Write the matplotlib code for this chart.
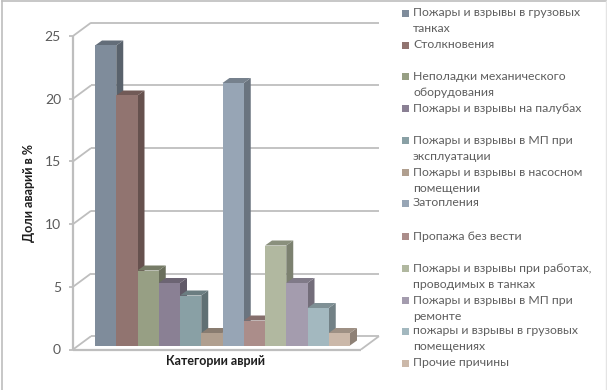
import matplotlib
matplotlib.use("Agg")
import matplotlib.pyplot as plt
from matplotlib.patches import Polygon, Rectangle
from matplotlib.colors import to_rgb

plt.rcParams['font.family'] = ['Lato', 'DejaVu Sans']

categories = [
    "Пожары и взрывы в грузовых\nтанках",
    "Столкновения",
    "Неполадки механического\nоборудования",
    "Пожары и взрывы на палубах",
    "Пожары и взрывы в МП при\nэксплуатации",
    "Пожары и взрывы в насосном\nпомещении",
    "Затопления",
    "Пропажа без вести",
    "Пожары и взрывы при работах,\nпроводимых в танках",
    "Пожары и взрывы в МП при\nремонте",
    "пожары и взрывы в грузовых\nпомещениях",
    "Прочие причины",
]
values = [24, 20, 6, 5, 4, 1, 21, 2, 8, 5, 3, 1]
colors = ["#7F8C9B", "#917470", "#979F84", "#8A8094", "#89A0A5", "#B09F8F",
          "#97A5B5", "#AB8D8A", "#B1B8A0", "#A49CAE", "#A3B8BF", "#CBB8A9"]
y_ticks = [0, 5, 10, 15, 20, 25]
legend_y = [13, 45, 76, 108, 140, 172, 203, 236, 268, 300, 331, 363]

W, H = 607, 390
fig = plt.figure(figsize=(W / 100, H / 100), dpi=100, facecolor="white")

# pixel canvas overlay (for layout only)
px = fig.add_axes([0, 0, 1, 1], zorder=0)
px.set_xlim(0, W)
px.set_ylim(H, 0)
px.axis("off")

# data axes: x = bar slot, y = value
BAR_W = 21.25
X0, Y0, UNIT = 95.0, 345.5, 12.5
ax = fig.add_axes([0, 0, 1, 1], zorder=1)
ax.patch.set_alpha(0)
ax.set_xlim(-X0 / BAR_W, (W - X0) / BAR_W)
ax.set_ylim(-(H - Y0) / UNIT, Y0 / UNIT)
ax.axis("off")

GRID = "#BEBEBE"
DX, DY = 7 / BAR_W, 5 / UNIT                     # bar depth
FX0, FX1 = -22 / BAR_W, 266 / BAR_W              # front floor edge
FY = -4 / UNIT                                   # front floor level
WX, WY = 18 / BAR_W, 13.3 / UNIT                 # wall depth
SCALE = 62.7 / 62.5


def ln(xs, ys, lw=1.3, z=1):
    ax.plot(xs, ys, color=GRID, lw=lw, solid_capstyle="butt", zorder=z)


for t in y_ticks:
    yf = FY + t * SCALE
    ln([FX0 + WX, FX1 + WX], [yf + WY, yf + WY])
    ln([FX0, FX0 + WX], [yf, yf + WY])
    ln([FX0 - 4 / BAR_W, FX0], [yf, yf])
    ax.text(FX0 - 12 / BAR_W, yf - 1 / UNIT, str(t), ha="right", va="center",
            fontsize=10, color="#5A5A5A")
ln([FX0, FX0], [FY, FY + 25 * SCALE], lw=1.6)
ln([FX0, FX1], [FY, FY], lw=1.6)
ln([FX1, FX1 + WX], [FY, FY + WY])


def shade(c, f):
    return tuple(v * f for v in to_rgb(c))


for i, (v, c) in enumerate(zip(values, colors)):
    z = 3 + i
    ax.add_patch(Polygon([(i + 1, 0), (i + 1 + DX, DY), (i + 1 + DX, v + DY), (i + 1, v)],
                         closed=True, fc=shade(c, 0.70), ec="none", zorder=z))
    ax.add_patch(Polygon([(i, v), (i + DX, v + DY), (i + 1 + DX, v + DY), (i + 1, v)],
                         closed=True, fc=shade(c, 0.78), ec="none", zorder=z))
    ax.bar(i, v, width=1, align="edge", color=c, edgecolor="none", zorder=z + 0.5)

fig.text(29 / W, 1 - 193 / H, "Доли аварий в %", rotation=90, ha="center", va="center",
         fontsize=9, fontweight="bold", color="#1E1E1E")
fig.text(216 / W, 1 - 361 / H, "Категории аврий", ha="center", va="center",
         fontsize=9, fontweight="bold", color="#1E1E1E")

# legend
for label, c, y in zip(categories, colors, legend_y):
    px.add_patch(Rectangle((402, y - 3.5), 7, 7, fc=c, ec="none"))
    for k, part in enumerate(label.split("\n")):
        px.text(413, y + 16 * k, part, ha="left", va="center", fontsize=8.8, color="#5E5E5E")

# chart frame: visible on the left and top, faint on the right, none at the bottom
px.plot([1.5, 1.5], [H, 0.5], color="#BDBDBD", lw=1.2)
px.plot([1.5, W - 1], [0.5, 0.5], color="#BDBDBD", lw=1.2)
px.plot([W - 1, W - 1], [0.5, H], color="#E4E4E4", lw=1.0)

fig.savefig("out.png", dpi=100)
